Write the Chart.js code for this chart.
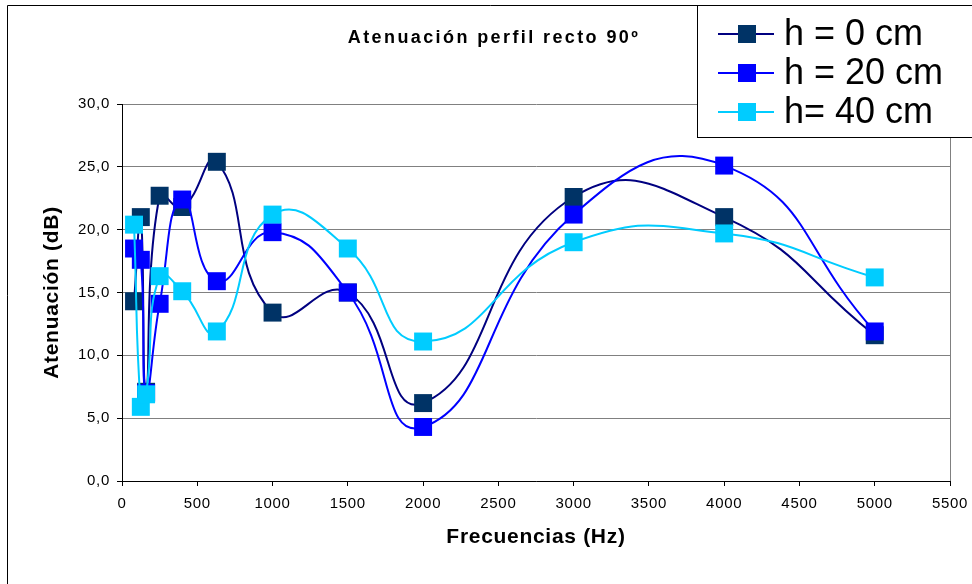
<!DOCTYPE html>
<html>
<head>
<meta charset="utf-8">
<script src="https://cdn.jsdelivr.net/npm/chart.js@4.4.0/dist/chart.umd.min.js"></script>
<style>
  html, body { margin: 0; padding: 0; background: #fff; }
  #wrap { width: 972px; height: 584px; position: relative; }
</style>
</head>
<body>
<div id="wrap"><canvas id="myChart" width="972" height="584"></canvas></div>
<script>
// frequencies (Hz) and attenuation (dB)
var freqs = [80, 125, 160, 250, 400, 630, 1000, 1500, 2000, 3000, 4000, 5000];
var h0  = [14.3, 21.0, 7.1, 22.7, 21.8, 25.4, 13.4, 15.0, 6.2, 22.6, 21.0, 11.6];
var h20 = [18.5, 17.6, 7.0, 14.1, 22.4, 15.9, 19.8, 15.0, 4.3, 21.2, 25.1, 11.9];
var h40 = [20.4, 5.9, 6.9, 16.3, 15.1, 11.9, 21.2, 18.5, 11.1, 19.0, 19.7, 16.2];
var seriesNames = ["h = 0 cm", "h = 20 cm", "h= 40 cm"];
var chartTitle = "Atenuación perfil recto 90º";

function pts(vals) {
	return freqs.map(function (f, i) { return { x: f, y: vals[i] }; });
}

var FONT = "'Liberation Sans', Arial, sans-serif";

// the excel text is a bit spaced out
var spacing = {
	id: 'spacing',
	beforeUpdate: function (chart) { chart.ctx.letterSpacing = '0.7px'; },
	beforeDraw: function (chart) { chart.ctx.letterSpacing = '0.7px'; }
};

// titles, legend box, frames
var extras = {
	id: 'extras',
	afterDraw: function (chart) {
		var c = chart.ctx, a = chart.chartArea;
		c.save();
		// right edge of the plot area
		c.strokeStyle = '#808080';
		c.lineWidth = 1;
		c.beginPath();
		c.moveTo(Math.round(a.right) + 0.5, a.top);
		c.lineTo(Math.round(a.right) + 0.5, a.bottom);
		c.stroke();
		// outer chart frame
		c.strokeStyle = '#000';
		c.beginPath();
		c.moveTo(7.5, 600);
		c.lineTo(7.5, 5.5);
		c.lineTo(980, 5.5);
		c.stroke();
		// title
		c.fillStyle = '#000';
		c.font = "bold 18px " + FONT;
		c.letterSpacing = '2.4px';
		c.textAlign = 'center';
		c.textBaseline = 'middle';
		c.fillText(chartTitle, 494, 38);
		// legend
		c.letterSpacing = '0px';
		c.fillStyle = '#fff';
		c.fillRect(697.5, 5.5, 290, 132);
		c.strokeStyle = '#000';
		c.strokeRect(697.5, 5.5, 290, 132);
		var ds = chart.data.datasets;
		c.font = "36px " + FONT;
		c.textAlign = 'left';
		for (var i = 0; i < ds.length; i++) {
			var y = 34 + i * 39;
			c.strokeStyle = ds[i].borderColor;
			c.lineWidth = 2;
			c.beginPath();
			c.moveTo(718, y);
			c.lineTo(774, y);
			c.stroke();
			c.fillStyle = ds[i].pointBackgroundColor;
			c.fillRect(738, y - 9, 18, 18);
			c.fillStyle = '#000';
			c.fillText(ds[i].label, 784, y + 1);
		}
		c.restore();
	}
};

var ctx = document.getElementById("myChart");
var myChart = new Chart(ctx, {
	type: 'scatter',
	data: {
		datasets: [
			{
				label: seriesNames[0],
				data: pts(h0),
				showLine: true,
				borderColor: "#000080",
				pointBackgroundColor: "#003366",
				order: 3
			},
			{
				label: seriesNames[1],
				data: pts(h20),
				showLine: true,
				borderColor: "#0000FF",
				pointBackgroundColor: "#0000FF",
				order: 2
			},
			{
				label: seriesNames[2],
				data: pts(h40),
				showLine: true,
				borderColor: "#00CCFF",
				pointBackgroundColor: "#00CCFF",
				order: 1
			}
		]
	},
	options: {
		responsive: false,
		animation: false,
		maintainAspectRatio: false,
		layout: { padding: { top: 104, right: 22, bottom: 0, left: 0 } },
		elements: {
			line: { borderWidth: 2, tension: 0.5 },
			point: { pointStyle: 'rect', radius: 12.7, borderWidth: 0, hoverRadius: 12.7 }
		},
		plugins: {
			legend: { display: false },
			tooltip: { enabled: false }
		},
		scales: {
			x: {
				type: 'linear',
				min: 0,
				max: 5500,
				afterFit: function (s) { s.height = 103; s.paddingLeft = 0; s.paddingRight = 0; },
				ticks: {
					stepSize: 500,
					autoSkip: false,
					maxRotation: 0,
					padding: 9,
					color: '#000',
					font: { family: FONT, size: 15 },
					callback: function (v) { return String(v); }
				},
				grid: { drawOnChartArea: false, tickColor: '#000', tickLength: 5 },
				border: { color: '#000', width: 1 },
				title: {
					display: true,
					text: 'Frecuencias (Hz)',
					color: '#000',
					font: { family: FONT, size: 21, weight: 'bold' },
					padding: { top: 0, bottom: 34 }
				}
			},
			y: {
				min: 0,
				max: 30,
				afterFit: function (s) { s.width = 122; s.paddingTop = 0; s.paddingBottom = 0; },
				ticks: {
					stepSize: 5,
					padding: 7,
					color: '#000',
					font: { family: FONT, size: 15 },
					callback: function (v) { return v.toFixed(1).replace('.', ','); }
				},
				grid: { color: '#808080', tickColor: '#000', tickLength: 5, lineWidth: 1 },
				border: { color: '#000', width: 1 },
				title: {
					display: true,
					text: 'Atenuación (dB)',
					color: '#000',
					font: { family: FONT, size: 21, weight: 'bold' },
					padding: { top: 40, bottom: 0 }
				}
			}
		}
	},
	plugins: [spacing, extras]
});
</script>
</body>
</html>
